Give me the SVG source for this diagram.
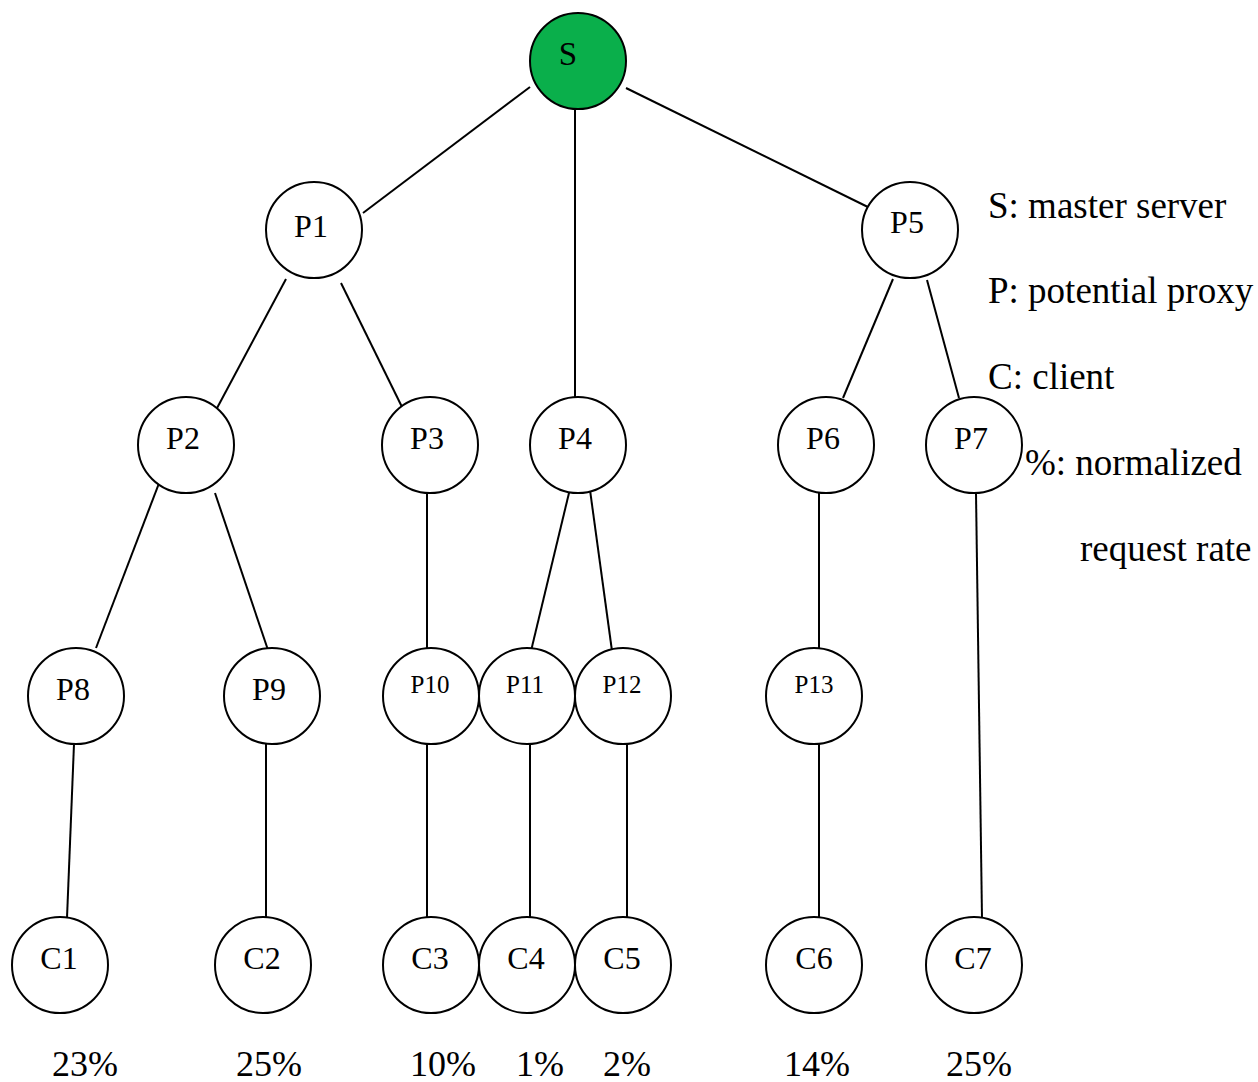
<svg xmlns="http://www.w3.org/2000/svg" width="1258" height="1082" viewBox="0 0 1258 1082">
  <style>
    .node circle { fill: #ffffff; stroke: #000000; stroke-width: 2; }
    #S circle { fill: #0aaf4b; }
    .node text { font-family: "Liberation Serif", "Times New Roman", serif; font-size: 32px; text-anchor: middle; fill: #000000; }
    .node.small text { font-size: 25px; }
    #S text { font-size: 33px; }
    #connectors line { stroke: #000000; stroke-width: 2; }
    .legend { font-family: "Liberation Serif", "Times New Roman", serif; font-size: 37px; fill: #000000; }
    .rate { font-family: "Liberation Serif", "Times New Roman", serif; font-size: 36px; text-anchor: middle; fill: #000000; }
  </style>
  <rect width="1258" height="1082" fill="#ffffff"/>

  <!-- tree edges -->
  <g id="connectors">
    <line x1="530" y1="87" x2="363" y2="213"/>
    <line x1="575" y1="110" x2="575" y2="397"/>
    <line x1="626" y1="88" x2="876" y2="211"/>
    <line x1="286" y1="279" x2="216" y2="410"/>
    <line x1="341" y1="283" x2="402" y2="407"/>
    <line x1="893" y1="279" x2="843" y2="398"/>
    <line x1="927" y1="280" x2="959" y2="398"/>
    <line x1="166" y1="465" x2="96" y2="648"/>
    <line x1="215" y1="493" x2="268" y2="650"/>
    <line x1="427" y1="493" x2="427" y2="651"/>
    <line x1="575" y1="468" x2="531" y2="651"/>
    <line x1="587" y1="468" x2="612" y2="651"/>
    <line x1="819" y1="493" x2="819" y2="651"/>
    <line x1="976" y1="493" x2="982" y2="918"/>
    <line x1="74" y1="744" x2="67" y2="918"/>
    <line x1="266" y1="744" x2="266" y2="918"/>
    <line x1="427" y1="744" x2="427" y2="918"/>
    <line x1="530" y1="744" x2="530" y2="918"/>
    <line x1="627" y1="744" x2="627" y2="918"/>
    <line x1="819" y1="744" x2="819" y2="918"/>
  </g>

  <!-- master server -->
  <g id="S" class="node"><circle cx="578" cy="61" r="48"/><text x="568" y="65">S</text></g>

  <!-- proxies -->
  <g id="P1" class="node"><circle cx="314" cy="230" r="48"/><text x="311" y="237">P1</text></g>
  <g id="P5" class="node"><circle cx="910" cy="230" r="48"/><text x="907" y="233">P5</text></g>
  <g id="P2" class="node"><circle cx="186" cy="445" r="48"/><text x="183" y="449">P2</text></g>
  <g id="P3" class="node"><circle cx="430" cy="445" r="48"/><text x="427" y="449">P3</text></g>
  <g id="P4" class="node"><circle cx="578" cy="445" r="48"/><text x="575" y="449">P4</text></g>
  <g id="P6" class="node"><circle cx="826" cy="445" r="48"/><text x="823" y="449">P6</text></g>
  <g id="P7" class="node"><circle cx="974" cy="445" r="48"/><text x="971" y="449">P7</text></g>
  <g id="P8" class="node"><circle cx="76" cy="696" r="48"/><text x="73" y="700">P8</text></g>
  <g id="P9" class="node"><circle cx="272" cy="696" r="48"/><text x="269" y="700">P9</text></g>
  <g id="P10" class="node small"><circle cx="431" cy="696" r="48"/><text x="430" y="693">P10</text></g>
  <g id="P11" class="node small"><circle cx="527" cy="696" r="48"/><text x="525" y="693">P11</text></g>
  <g id="P12" class="node small"><circle cx="623" cy="696" r="48"/><text x="622" y="693">P12</text></g>
  <g id="P13" class="node small"><circle cx="814" cy="696" r="48"/><text x="814" y="693">P13</text></g>

  <!-- clients -->
  <g id="C1" class="node"><circle cx="60" cy="965" r="48"/><text x="59" y="969">C1</text></g>
  <g id="C2" class="node"><circle cx="263" cy="965" r="48"/><text x="262" y="969">C2</text></g>
  <g id="C3" class="node"><circle cx="431" cy="965" r="48"/><text x="430" y="969">C3</text></g>
  <g id="C4" class="node"><circle cx="527" cy="965" r="48"/><text x="526" y="969">C4</text></g>
  <g id="C5" class="node"><circle cx="623" cy="965" r="48"/><text x="622" y="969">C5</text></g>
  <g id="C6" class="node"><circle cx="814" cy="965" r="48"/><text x="814" y="969">C6</text></g>
  <g id="C7" class="node"><circle cx="974" cy="965" r="48"/><text x="973" y="969">C7</text></g>

  <!-- normalized request rates -->
  <g id="rates">
    <text class="rate" x="85" y="1076">23%</text>
    <text class="rate" x="269" y="1076">25%</text>
    <text class="rate" x="443" y="1076">10%</text>
    <text class="rate" x="540" y="1076">1%</text>
    <text class="rate" x="627" y="1076">2%</text>
    <text class="rate" x="817" y="1076">14%</text>
    <text class="rate" x="979" y="1076">25%</text>
  </g>

  <!-- legend -->
  <g id="legend">
    <text class="legend" x="988" y="218">S: master server</text>
    <text class="legend" x="988" y="303">P: potential proxy</text>
    <text class="legend" x="988" y="389">C: client</text>
    <text class="legend" x="1025" y="475">%: normalized</text>
    <text class="legend" x="1080" y="561">request rate</text>
  </g>
</svg>
